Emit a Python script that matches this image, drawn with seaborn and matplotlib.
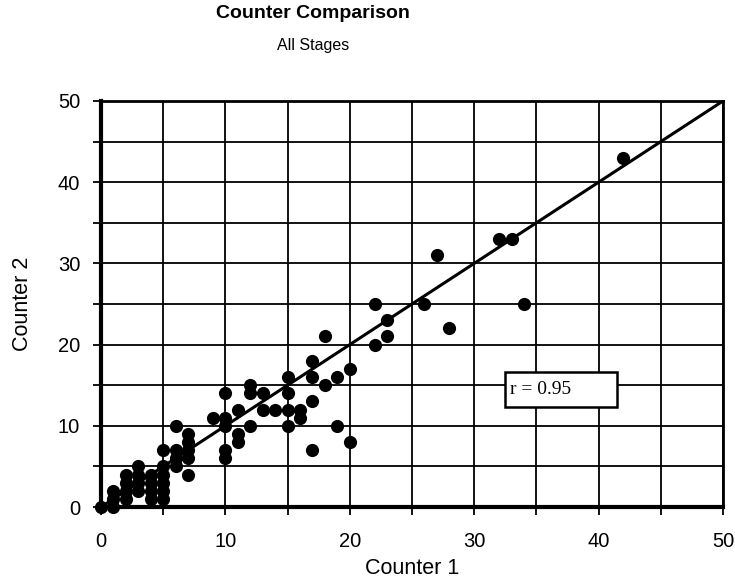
import matplotlib
matplotlib.use("Agg")
import matplotlib.pyplot as plt
from matplotlib.patches import Rectangle
import seaborn as sns
import pandas as pd
from matplotlib.ticker import MultipleLocator

# Counts recorded by the two counters for the same samples
counter1 = [0, 1, 1, 1, 2, 2, 2, 2, 3, 3, 3, 3, 4, 4, 4, 4,
            5, 5, 5, 5, 5, 5, 6, 6, 6, 6, 7, 7, 7, 7, 7, 9,
            10, 10, 10, 10, 10, 11, 11, 11, 12, 12, 12, 13, 13, 14,
            15, 15, 15, 15, 16, 16, 17, 17, 17, 17, 18, 18, 19, 19,
            20, 20, 22, 22, 23, 23, 26, 27, 28, 32, 33, 34, 42]
counter2 = [0, 0, 1, 2, 1, 2, 3, 4, 2, 3, 4, 5, 1, 2, 3, 4,
            1, 2, 3, 4, 5, 7, 5, 6, 7, 10, 4, 6, 7, 8, 9, 11,
            6, 7, 10, 11, 14, 8, 9, 12, 10, 14, 15, 12, 14, 12,
            10, 12, 14, 16, 11, 12, 7, 13, 16, 18, 15, 21, 10, 16,
            8, 17, 20, 25, 21, 23, 25, 31, 22, 33, 33, 25, 43]

# Line of equality
line_x = [0, 50]
r_value = 0.95

df = pd.DataFrame({"Counter 1": counter1, "Counter 2": counter2})
ref = pd.DataFrame({"x": line_x, "y": line_x})

sns.set_style("white")
plt.rcParams["font.family"] = ["Liberation Sans", "DejaVu Sans"]
plt.rcParams["text.color"] = "black"
plt.rcParams["axes.labelcolor"] = "black"

fig = plt.figure(figsize=(7.35, 5.78), dpi=100)
ax = fig.add_axes([0.1374, 0.1228, 0.8463, 0.7025])

ax.set_xlim(0, 50)
ax.set_ylim(0, 50)
ax.xaxis.set_major_locator(MultipleLocator(10))
ax.xaxis.set_minor_locator(MultipleLocator(5))
ax.yaxis.set_major_locator(MultipleLocator(10))
ax.yaxis.set_minor_locator(MultipleLocator(5))
ax.grid(True, which="both", color="black", linewidth=1.3)
ax.set_axisbelow(True)

sns.lineplot(data=ref, x="x", y="y", ax=ax, color="black", linewidth=2.2,
             zorder=3)
sns.scatterplot(data=df, x="Counter 1", y="Counter 2", ax=ax, color="black",
                s=90, edgecolor="black", linewidth=0, zorder=4, clip_on=False)

for side, w in {"left": 3.0, "bottom": 3.0, "top": 2.0, "right": 2.0}.items():
    ax.spines[side].set_color("black")
    ax.spines[side].set_linewidth(w)

ax.tick_params(which="both", direction="out", length=6, width=1.3,
               color="black", bottom=True, left=True)
ax.tick_params(axis="x", which="major", labelsize=14.5, labelcolor="black",
               pad=12)
ax.tick_params(axis="y", which="major", labelsize=14.5, labelcolor="black",
               pad=9)

ax.set_xlabel("Counter 1", fontsize=15.5, labelpad=5)
ax.set_ylabel("Counter 2", fontsize=15.5, labelpad=18)

# Correlation annotation box
ax.add_patch(Rectangle((32.5, 12.3), 9.0, 4.3, facecolor="white",
                       edgecolor="black", linewidth=1.8, zorder=5))
ax.text(32.9, 14.45, f"r = {r_value}", fontsize=14,
        family=["Liberation Serif", "DejaVu Serif"], va="center", ha="left",
        zorder=6)

fig.text(0.426, 0.976, "Counter Comparison", ha="center", va="center",
         fontsize=14, fontweight="bold")
fig.text(0.426, 0.922, "All Stages", ha="center", va="center", fontsize=11.5)

fig.savefig("out.png", dpi=100)
